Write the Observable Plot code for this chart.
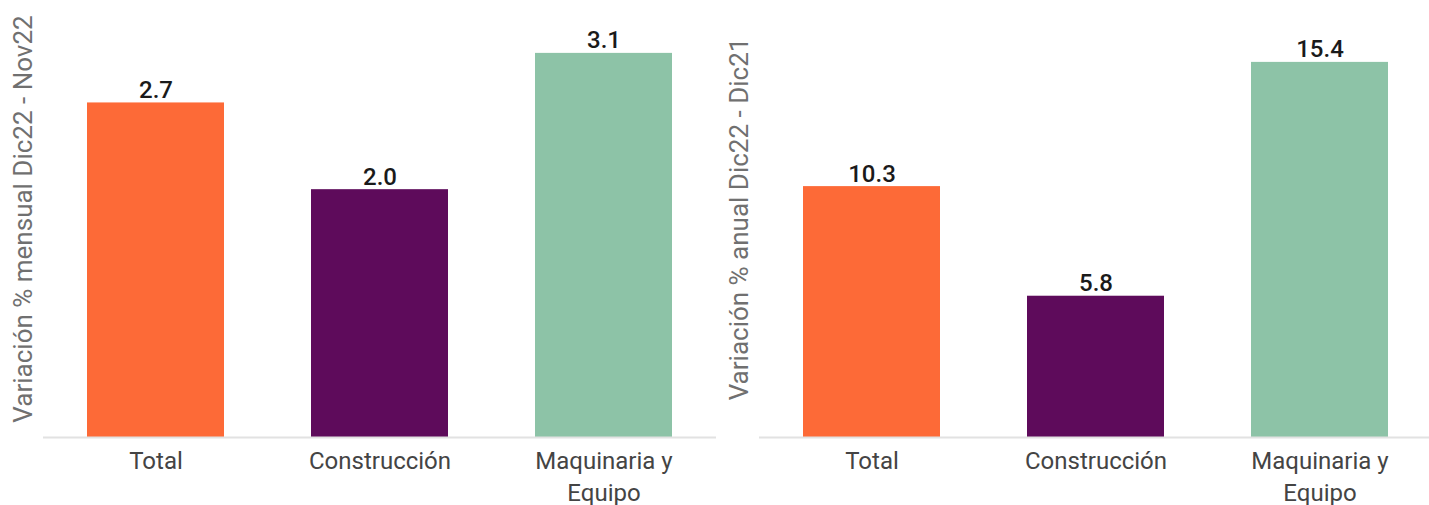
<!DOCTYPE html>
<html>
<head>
<meta charset="utf-8">
<script src="https://cdn.jsdelivr.net/npm/d3@7"></script>
<script src="https://cdn.jsdelivr.net/npm/@observablehq/plot@0.6"></script>
<style>
  html, body { margin: 0; padding: 0; background: #fff; overflow: hidden; }
  #wrap { display: flex; flex-wrap: nowrap; width: 1440px; }
  #wrap svg { flex: 0 0 auto; }
</style>
</head>
<body>
<div id="wrap"></div>
<script>
const categories = ["Total", "Construcción", "Maquinaria y\nEquipo"];
const mensual = [2.7, 2.0, 3.1];
const anual = [10.3, 5.8, 15.4];
const barColors = ["#FD6A37", "#5E0B5B", "#8DC3A7"];
const titles = ["Variación % mensual Dic22 - Nov22", "Variación % anual Dic22 - Dic21"];
const yMax = [3.446, 17.53];

function panel(values, title, top) {
  const data = categories.map((c, i) => ({cat: c, value: values[i]}));
  return Plot.plot({
    width: 716,
    height: 505,
    marginLeft: 43,
    marginRight: 0,
    marginTop: 10,
    marginBottom: 68,
    style: {fontFamily: "Roboto, sans-serif", background: "#fff", overflow: "visible"},
    x: {domain: categories, paddingInner: 0.39, paddingOuter: 0.195, axis: null},
    y: {domain: [0, top], axis: null},
    color: {domain: categories, range: barColors},
    marks: [
      Plot.barY(data, {x: "cat", y: "value", fill: "cat"}),
      Plot.ruleY([0], {stroke: "#e2e2e2", strokeWidth: 2}),
      Plot.text(data, {x: "cat", y: "value", text: d => d.value.toFixed(1), lineAnchor: "bottom", dy: -5, fontSize: 24, fill: "#1a1a1a", fontWeight: 500}),
      Plot.axisX({tickSize: 0, tickPadding: 9, fontSize: 24, color: "#444", lineHeight: 1.33, label: null}),
      Plot.text([title], {frameAnchor: "left", textAnchor: "middle", rotate: -90, dx: -20, dy: -5, fontSize: 26, fill: "#707070", fontWeight: 400})
    ]
  });
}

const wrap = document.getElementById("wrap");
wrap.appendChild(panel(mensual, titles[0], yMax[0]));
wrap.appendChild(panel(anual, titles[1], yMax[1]));
</script>
</body>
</html>
